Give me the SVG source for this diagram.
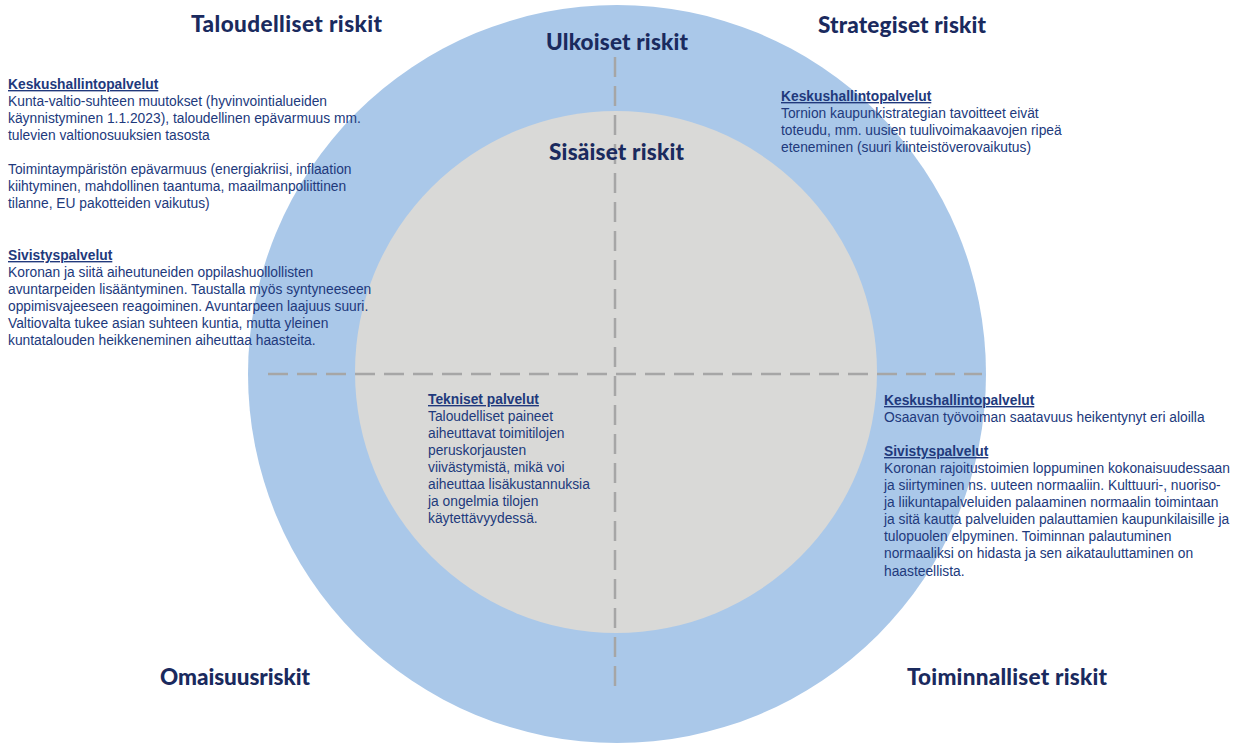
<svg xmlns="http://www.w3.org/2000/svg" width="1242" height="745" viewBox="0 0 1242 745">
<style>
.title{font-family:Lato,"Open Sans",sans-serif;font-weight:900;font-size:22.5px;fill:#1a2a5e}
.body{font-family:"Liberation Sans",Arial,sans-serif;font-size:13.8px;fill:#21397c}
.hdr{font-weight:700;text-decoration:underline}
.dash{stroke:#a6a6a6;stroke-width:2.5;stroke-dasharray:20 9;fill:none}
</style>
<rect width="1242" height="745" fill="#ffffff"/>
<g id="outer-circle"><circle cx="617" cy="374" r="369" fill="#aac8e9"/></g>
<g id="inner-circle"><circle cx="616" cy="372" r="261" fill="#d9d9d7"/></g>
<g id="connectors">
<line class="dash" x1="615" y1="57" x2="615" y2="690"/>
<line class="dash" x1="268" y1="374" x2="982" y2="374"/>
</g>
<g id="titles">
<text class="title" x="191" y="32" textLength="191">Taloudelliset riskit</text>
<text class="title" x="546" y="50" textLength="142">Ulkoiset riskit</text>
<text class="title" x="818" y="33" textLength="168">Strategiset riskit</text>
<text class="title" x="549" y="160" textLength="135">Sisäiset riskit</text>
<text class="title" x="160" y="685" textLength="150">Omaisuusriskit</text>
<text class="title" x="907" y="685" textLength="200">Toiminnalliset riskit</text>
</g>
<g id="taloudelliset-text" class="body">
<text x="8" y="89" class="hdr">Keskushallintopalvelut</text>
<text x="8" y="106">Kunta-valtio-suhteen muutokset (hyvinvointialueiden</text>
<text x="8" y="123">käynnistyminen 1.1.2023), taloudellinen epävarmuus mm.</text>
<text x="8" y="140">tulevien valtionosuuksien tasosta</text>
<text x="8" y="174">Toimintaympäristön epävarmuus (energiakriisi, inflaation</text>
<text x="8" y="191">kiihtyminen, mahdollinen taantuma, maailmanpoliittinen</text>
<text x="8" y="208">tilanne, EU pakotteiden vaikutus)</text>
<text x="8" y="260" class="hdr">Sivistyspalvelut</text>
<text x="8" y="277">Koronan ja siitä aiheutuneiden oppilashuollollisten</text>
<text x="8" y="294">avuntarpeiden lisääntyminen. Taustalla myös syntyneeseen</text>
<text x="8" y="311">oppimisvajeeseen reagoiminen. Avuntarpeen laajuus suuri.</text>
<text x="8" y="328">Valtiovalta tukee asian suhteen kuntia, mutta yleinen</text>
<text x="8" y="345">kuntatalouden heikkeneminen aiheuttaa haasteita.</text>
</g>
<g id="strategiset-text" class="body">
<text x="781" y="101" class="hdr">Keskushallintopalvelut</text>
<text x="781" y="118">Tornion kaupunkistrategian tavoitteet eivät</text>
<text x="781" y="135">toteudu, mm. uusien tuulivoimakaavojen ripeä</text>
<text x="781" y="152">eteneminen (suuri kiinteistöverovaikutus)</text>
</g>
<g id="tekniset-text" class="body">
<text x="428" y="404" class="hdr">Tekniset palvelut</text>
<text x="428" y="421">Taloudelliset paineet</text>
<text x="428" y="438">aiheuttavat toimitilojen</text>
<text x="428" y="455">peruskorjausten</text>
<text x="428" y="472">viivästymistä, mikä voi</text>
<text x="428" y="489">aiheuttaa lisäkustannuksia</text>
<text x="428" y="506">ja ongelmia tilojen</text>
<text x="428" y="523">käytettävyydessä.</text>
</g>
<g id="toiminnalliset-text" class="body">
<text x="884" y="405" class="hdr">Keskushallintopalvelut</text>
<text x="884" y="422">Osaavan työvoiman saatavuus heikentynyt eri aloilla</text>
<text x="884" y="456" class="hdr">Sivistyspalvelut</text>
<text x="884" y="473">Koronan rajoitustoimien loppuminen kokonaisuudessaan</text>
<text x="884" y="490">ja siirtyminen ns. uuteen normaaliin. Kulttuuri-, nuoriso-</text>
<text x="884" y="507">ja liikuntapalveluiden palaaminen normaalin toimintaan</text>
<text x="884" y="524">ja sitä kautta palveluiden palauttamien kaupunkilaisille ja</text>
<text x="884" y="541">tulopuolen elpyminen. Toiminnan palautuminen</text>
<text x="884" y="558">normaaliksi on hidasta ja sen aikatauluttaminen on</text>
<text x="884" y="576">haasteellista.</text>
</g>
</svg>
